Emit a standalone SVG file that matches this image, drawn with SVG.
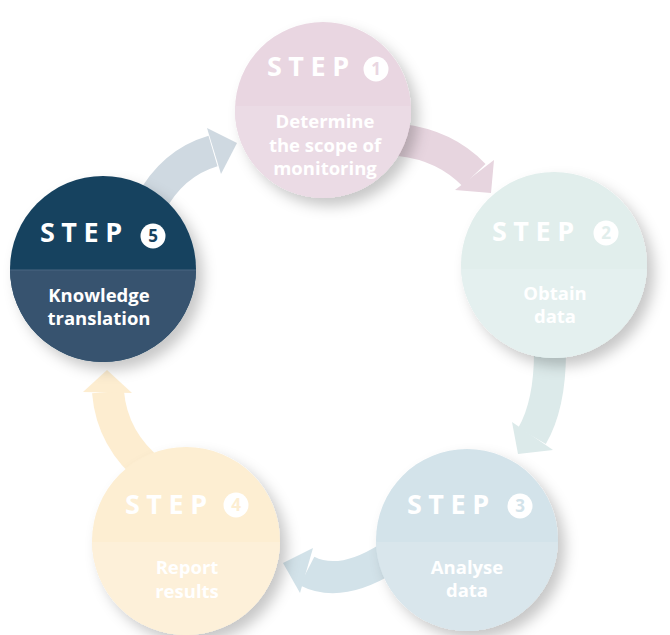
<svg xmlns="http://www.w3.org/2000/svg" width="670" height="635" viewBox="0 0 670 635">
<style>
.step{font-family:"Open Sans","Liberation Sans",sans-serif;font-weight:700;font-size:27px;letter-spacing:6.5px;fill:#fff}
.lbl{font-family:"Open Sans","Liberation Sans",sans-serif;font-weight:700;font-size:18.5px;fill:#fff;text-anchor:middle}
.num{font-family:"Open Sans","Liberation Sans",sans-serif;font-weight:700;font-size:17px;text-anchor:middle}
.band{fill:none;stroke-width:32}
</style>
<defs>
<filter id="sh" x="-30%" y="-30%" width="160%" height="160%">
<feDropShadow dx="7" dy="8" stdDeviation="7" flood-color="#000" flood-opacity="0.22"/>
</filter>
<clipPath id="c1"><circle cx="323" cy="110" r="88"/></clipPath>
<clipPath id="c2"><circle cx="554" cy="265" r="93"/></clipPath>
<clipPath id="c3"><circle cx="467" cy="540" r="91"/></clipPath>
<clipPath id="c4"><circle cx="186" cy="541" r="94"/></clipPath>
<clipPath id="c5"><circle cx="103" cy="269" r="93"/></clipPath>
</defs>
<g id="connectors">
<g id="a51"><path class="band" stroke="#cfd9e1" d="M150 205 Q172 163 213 151"/><polygon fill="#cfd9e1" points="207,128 237,143 221,174"/></g>
<g id="a12"><path class="band" stroke="#e7d5df" d="M400 140 Q445 145 474 175"/><polygon fill="#e7d5df" points="494,160 491,193 455,190"/></g>
<g id="a23"><path class="band" stroke="#dceaea" d="M550 352 Q550 405 532 436"/><polygon fill="#dceaea" points="512,422 518,454 553,450"/></g>
<g id="a34"><path class="band" stroke="#d2e2e9" stroke-width="34" d="M388 558 Q340 588 307 571"/><polygon fill="#d2e2e9" points="313,548 283,563 300,593"/></g>
<g id="a45"><path class="band" stroke="#fdedd0" d="M152 472 Q112 440 108 392"/><polygon fill="#fdedd0" points="83,392 107,370 132,393"/></g>
</g>
<g id="step1">
<circle cx="323" cy="110" r="88" fill="#e9d6e1" filter="url(#sh)"/>
<rect x="230" y="106" width="190" height="100" fill="#ebdbe5" clip-path="url(#c1)"/>
<text class="step" x="267" y="76">STEP</text>
<circle cx="376" cy="69" r="12.5" fill="#fff"/><text class="num" x="376" y="75" fill="#e9d6e1">1</text>
<text class="lbl" x="325" y="128">Determine</text>
<text class="lbl" x="325" y="152">the scope of</text>
<text class="lbl" x="325" y="175">monitoring</text>
</g>
<g id="step2">
<circle cx="554" cy="265" r="93" fill="#e1eeec" filter="url(#sh)"/>
<rect x="455" y="269" width="200" height="100" fill="#e4f0ef" clip-path="url(#c2)"/>
<text class="step" x="492" y="241">STEP</text>
<circle cx="606" cy="233" r="12.5" fill="#fff"/><text class="num" x="606" y="239" fill="#e1eeec">2</text>
<text class="lbl" x="555" y="300">Obtain</text>
<text class="lbl" x="555" y="323">data</text>
</g>
<g id="step3">
<circle cx="467" cy="540" r="91" fill="#d3e3ea" filter="url(#sh)"/>
<rect x="370" y="542" width="200" height="100" fill="#d9e6ec" clip-path="url(#c3)"/>
<text class="step" x="407" y="514">STEP</text>
<circle cx="520" cy="506" r="12.5" fill="#fff"/><text class="num" x="520" y="512" fill="#d3e3ea">3</text>
<text class="lbl" x="467" y="574">Analyse</text>
<text class="lbl" x="467" y="597">data</text>
</g>
<g id="step4">
<circle cx="186" cy="541" r="94" fill="#fdeed2" filter="url(#sh)"/>
<rect x="88" y="542" width="200" height="100" fill="#fdf0d9" clip-path="url(#c4)"/>
<text class="step" x="125" y="514">STEP</text>
<circle cx="236" cy="505" r="12.5" fill="#fff"/><text class="num" x="236" y="511" fill="#fdeed2">4</text>
<text class="lbl" x="187" y="574">Report</text>
<text class="lbl" x="187" y="598">results</text>
</g>
<g id="step5">
<circle cx="103" cy="269" r="93" fill="#17425f" filter="url(#sh)"/>
<rect x="5" y="270" width="200" height="100" fill="#37536f" clip-path="url(#c5)"/>
<line x1="10" y1="270" x2="196" y2="270" stroke="#4a6782" stroke-width="1" clip-path="url(#c5)"/>
<text class="step" x="40" y="242">STEP</text>
<circle cx="153" cy="236" r="12.5" fill="#fff"/><text class="num" x="153" y="242" fill="#17425f">5</text>
<text class="lbl" x="99" y="302">Knowledge</text>
<text class="lbl" x="99" y="325">translation</text>
</g>
</svg>
